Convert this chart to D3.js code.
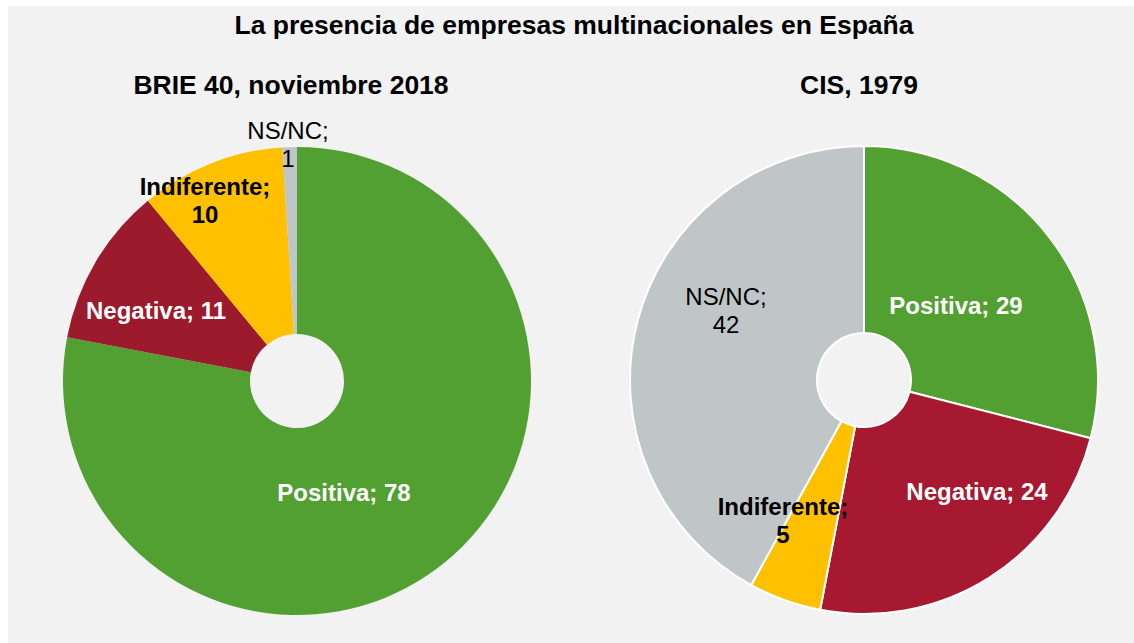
<!DOCTYPE html>
<html>
<head>
<meta charset="utf-8">
<script src="https://cdn.jsdelivr.net/npm/d3@7"></script>
<style>
  html, body { margin: 0; padding: 0; background: #ffffff; }
  svg { display: block; font-family: "Liberation Sans", Arial, sans-serif; }
</style>
</head>
<body>
<svg id="chart" width="1134" height="643"></svg>
<script>
// ---- data ----
const chartTitle = "La presencia de empresas multinacionales en España";
const categories = ["Positiva", "Negativa", "Indiferente", "NS/NC"];
const surveyTitles = ["BRIE 40, noviembre 2018", "CIS, 1979"];
const valuesBrie2018 = [78, 11, 10, 1];
const valuesCis1979 = [29, 24, 5, 42];

// ---- styling ----
const W = 1134, H = 643;
const colorsLeft = ["#52a032", "#9b1a2c", "#ffc000", "#c0c5c7"];
const colorsRight = ["#52a032", "#a71930", "#ffc000", "#c0c5c7"];
const labelStyle = [
  { fill: "#ffffff", weight: "bold" },
  { fill: "#ffffff", weight: "bold" },
  { fill: "#000000", weight: "bold" },
  { fill: "#000000", weight: "normal" }
];
// label anchor offsets (relative to pie centre), in px
const labelOffsetsLeft = [[47, 112], [-141, -70], [-92, -180], [-9, -236]];
const labelOffsetsRight = [[92, -74], [113, 112], [-81, 141], [-138, -69]];
const labelSplit = [false, false, true, true];

const svg = d3.select("#chart");
svg.append("rect").attr("x", 8).attr("y", 6).attr("width", W - 8).attr("height", H - 6)
  .attr("fill", "#f2f2f2");

svg.append("text").attr("x", 574).attr("y", 34).attr("text-anchor", "middle")
  .attr("font-size", 26.5).attr("font-weight", "bold").attr("fill", "#000")
  .text(chartTitle);

const pies = [
  { title: surveyTitles[0], values: valuesBrie2018, cx: 297, cy: 381, colors: colorsLeft,
    offsets: labelOffsetsLeft, stroke: "none", titleX: 291 },
  { title: surveyTitles[1], values: valuesCis1979, cx: 864, cy: 380, colors: colorsRight,
    offsets: labelOffsetsRight, stroke: "#ffffff", titleX: 859 }
];

const outerR = 234, innerR = 47;
const pie = d3.pie().sort(null).value(d => d.value);
const arc = d3.arc().innerRadius(innerR).outerRadius(outerR);

pies.forEach(p => {
  svg.append("text").attr("x", p.titleX).attr("y", 94).attr("text-anchor", "middle")
    .attr("font-size", 26.5).attr("font-weight", "bold").attr("fill", "#000")
    .text(p.title);

  const data = categories.map((c, i) => ({ cat: c, value: p.values[i], i }));
  const g = svg.append("g").attr("transform", `translate(${p.cx},${p.cy})`);
  g.selectAll("path").data(pie(data)).join("path")
    .attr("d", arc)
    .attr("fill", d => p.colors[d.data.i])
    .attr("stroke", p.stroke)
    .attr("stroke-width", p.stroke === "none" ? 0 : 2)
    .attr("stroke-linejoin", "round");

  data.forEach((d, i) => {
    const [dx, dy] = p.offsets[i];
    const st = labelStyle[i];
    const t = g.append("text").attr("text-anchor", "middle")
      .attr("font-size", 24).attr("font-weight", st.weight).attr("fill", st.fill);
    if (labelSplit[i]) {
      t.append("tspan").attr("x", dx).attr("y", dy - 14 + 8).text(d.cat + ";");
      t.append("tspan").attr("x", dx).attr("y", dy + 14 + 8).text(d.value);
    } else {
      t.attr("x", dx).attr("y", dy + 8).text(d.cat + "; " + d.value);
    }
  });
});
</script>
</body>
</html>
